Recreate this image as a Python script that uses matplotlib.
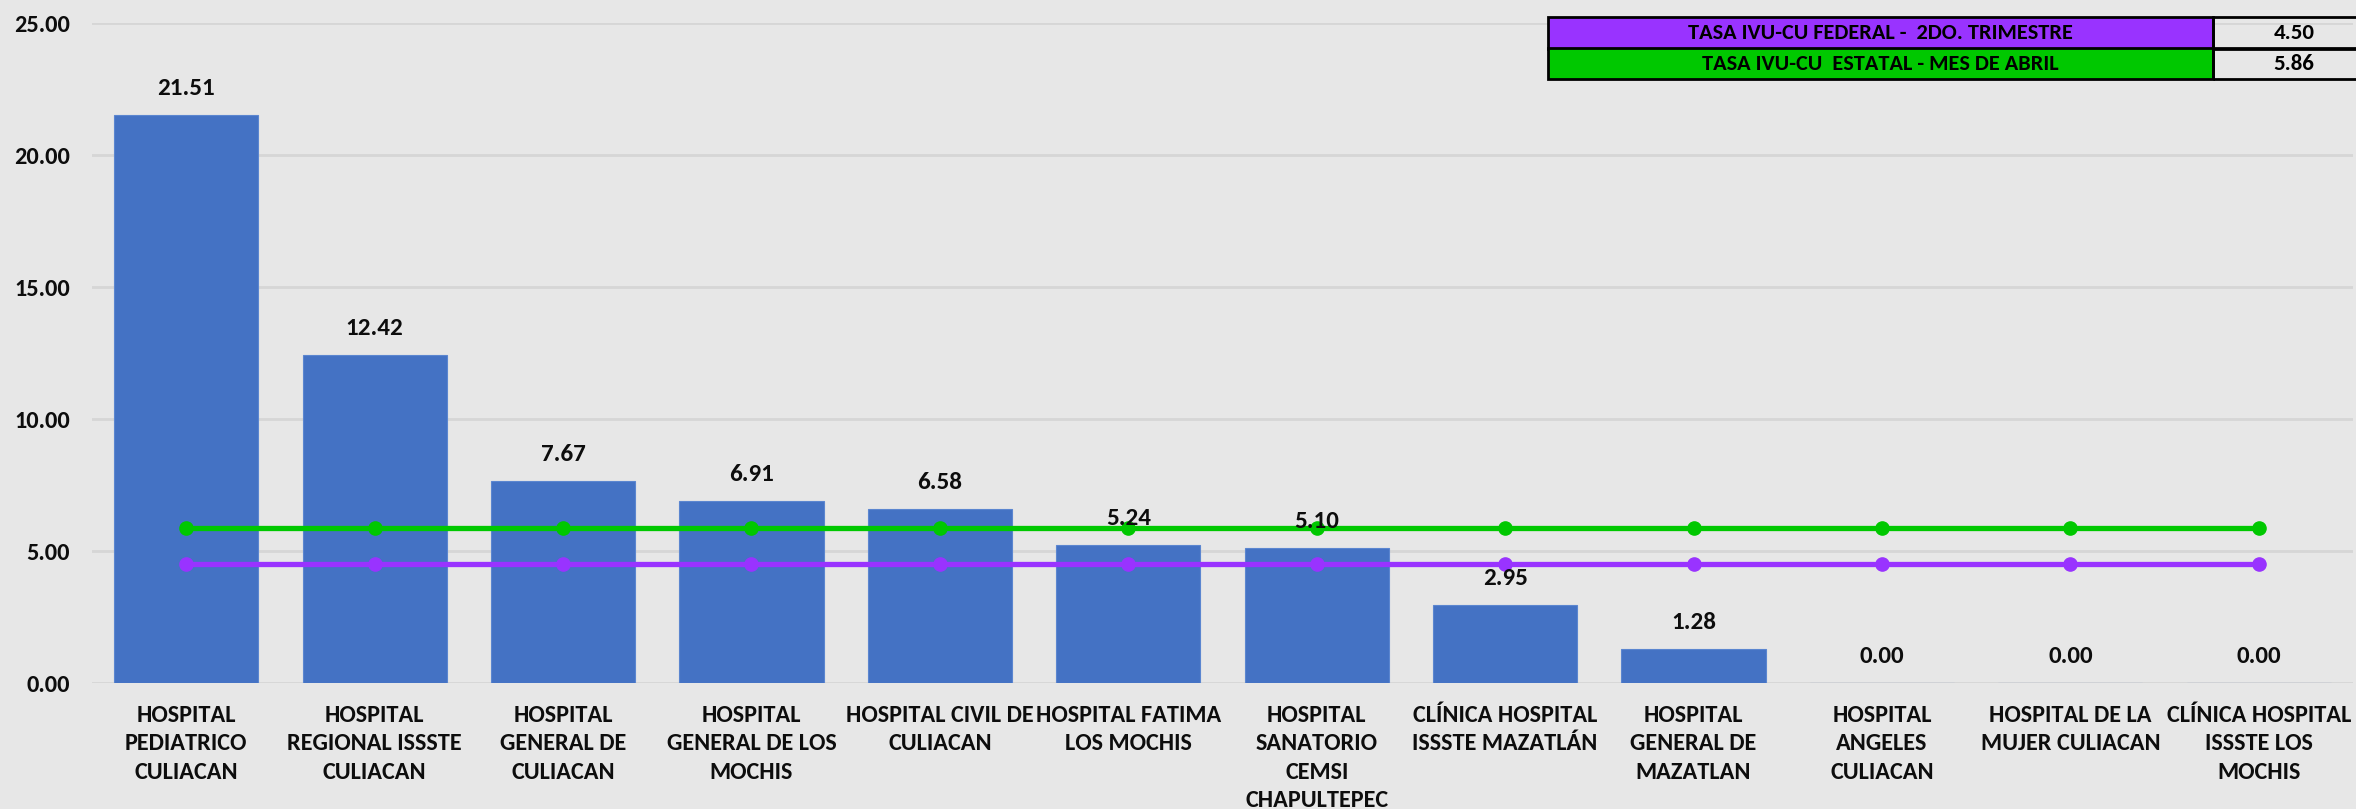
import matplotlib
matplotlib.use("Agg")
import matplotlib.pyplot as plt
import matplotlib.font_manager as fm
from matplotlib.patches import Rectangle

# ---------------- data ----------------
categories = [
    "HOSPITAL\nPEDIATRICO\nCULIACAN",
    "HOSPITAL\nREGIONAL ISSSTE\nCULIACAN",
    "HOSPITAL\nGENERAL DE\nCULIACAN",
    "HOSPITAL\nGENERAL DE LOS\nMOCHIS",
    "HOSPITAL CIVIL DE\nCULIACAN",
    "HOSPITAL FATIMA\nLOS MOCHIS",
    "HOSPITAL\nSANATORIO\nCEMSI\nCHAPULTEPEC",
    "CLÍNICA HOSPITAL\nISSSTE MAZATLÁN",
    "HOSPITAL\nGENERAL DE\nMAZATLAN",
    "HOSPITAL\nANGELES\nCULIACAN",
    "HOSPITAL DE LA\nMUJER CULIACAN",
    "CLÍNICA HOSPITAL\nISSSTE LOS\nMOCHIS",
]
tasa_hospital = [21.51, 12.42, 7.67, 6.91, 6.58, 5.24, 5.10, 2.95, 1.28, 0.00, 0.00, 0.00]
tasa_federal = [4.50, 4.50, 4.50, 4.50, 4.50, 4.50, 4.50, 4.50, 4.50, 4.50, 4.50, 4.50]
tasa_estatal = [5.86, 5.86, 5.86, 5.86, 5.86, 5.86, 5.86, 5.86, 5.86, 5.86, 5.86, 5.86]
table_labels = ["TASA IVU-CU FEDERAL -  2DO. TRIMESTRE", "TASA IVU-CU  ESTATAL - MES DE ABRIL"]
table_values = ["4.50", "5.86"]
y_ticks = [0, 5, 10, 15, 20, 25]

# ---------------- font ----------------
avail = {f.name for f in fm.fontManager.ttflist}
font = "DejaVu Sans"
for cand in ["Carlito", "Liberation Sans Narrow", "Roboto Condensed", "Open Sans Condensed", "Liberation Sans"]:
    if cand in avail:
        font = cand
        break
plt.rcParams["font.family"] = [font, "DejaVu Sans"]
plt.rcParams["font.weight"] = "bold"

BG = "#E7E7E7"
BAR = "#4472C4"
GREEN = "#00C800"
PURPLE = "#9933FF"
GRID = "#D6D6D6"
TXT = "#0D0D0D"

W, H = 2356, 809
fig = plt.figure(figsize=(W / 100, H / 100), dpi=100, facecolor=BG)
ax = fig.add_axes([92 / W, 1 - 683 / H, (2353 - 92) / W, (683 - 23) / H])
ax.set_facecolor(BG)

x = list(range(len(categories)))
ax.bar(x, tasa_hospital, width=0.765, color=BAR, edgecolor="#5B86D0", linewidth=0.8, zorder=2)
ax.plot(x, tasa_estatal, color=GREEN, lw=3.8, marker="o", ms=9.5, zorder=3)
ax.plot(x, tasa_federal, color=PURPLE, lw=3.8, marker="o", ms=9.5, zorder=3)

for xi, v in zip(x, tasa_hospital):
    ax.annotate(f"{v:.2f}", (xi, v), xytext=(0, 19), textcoords="offset points",
                ha="center", va="center", fontsize=18, fontweight="bold", color=TXT, zorder=4)

ax.set_xlim(-0.5, len(categories) - 0.5)
ax.set_ylim(0, 25)
ax.set_yticks(y_ticks)
ax.set_yticklabels([f"{t:.2f}" for t in y_ticks])
ax.set_xticks(x)
ax.set_xticklabels(categories, linespacing=1.42)
ax.tick_params(axis="y", length=0, labelsize=17.5, colors=TXT, pad=16)
ax.tick_params(axis="x", length=0, labelsize=17.5, colors=TXT, pad=16)
for lab in ax.get_xticklabels() + ax.get_yticklabels():
    lab.set_fontweight("bold")
for s in ax.spines.values():
    s.set_visible(False)
ax.yaxis.grid(True, color=GRID, lw=2, zorder=0)
ax.set_axisbelow(True)

# ---------------- legend table ----------------
def fx(px):
    return px / W

def fy(py):
    return 1 - py / H

rows = [(17, 48.5, PURPLE), (48.5, 79, GREEN)]
x0, x1, x2 = 1548, 2213, 2375
for (top, bot, col), lab, val in zip(rows, table_labels, table_values):
    fig.patches.append(Rectangle((fx(x0), fy(bot)), fx(x1 - x0), (bot - top) / H,
                                 transform=fig.transFigure, facecolor=col, edgecolor="black", lw=2, zorder=5))
    fig.patches.append(Rectangle((fx(x1), fy(bot)), fx(x2 - x1), (bot - top) / H,
                                 transform=fig.transFigure, facecolor="none", edgecolor="black", lw=2, zorder=5))
    fig.text(fx((x0 + x1) / 2), fy((top + bot) / 2), lab, ha="center", va="center",
             fontsize=16, fontweight="bold", color="black", zorder=6)
    fig.text(fx(2294), fy((top + bot) / 2), val, ha="center", va="center",
             fontsize=16.5, fontweight="bold", color="black", zorder=6)

fig.savefig("out.png", dpi=100, facecolor=BG)
